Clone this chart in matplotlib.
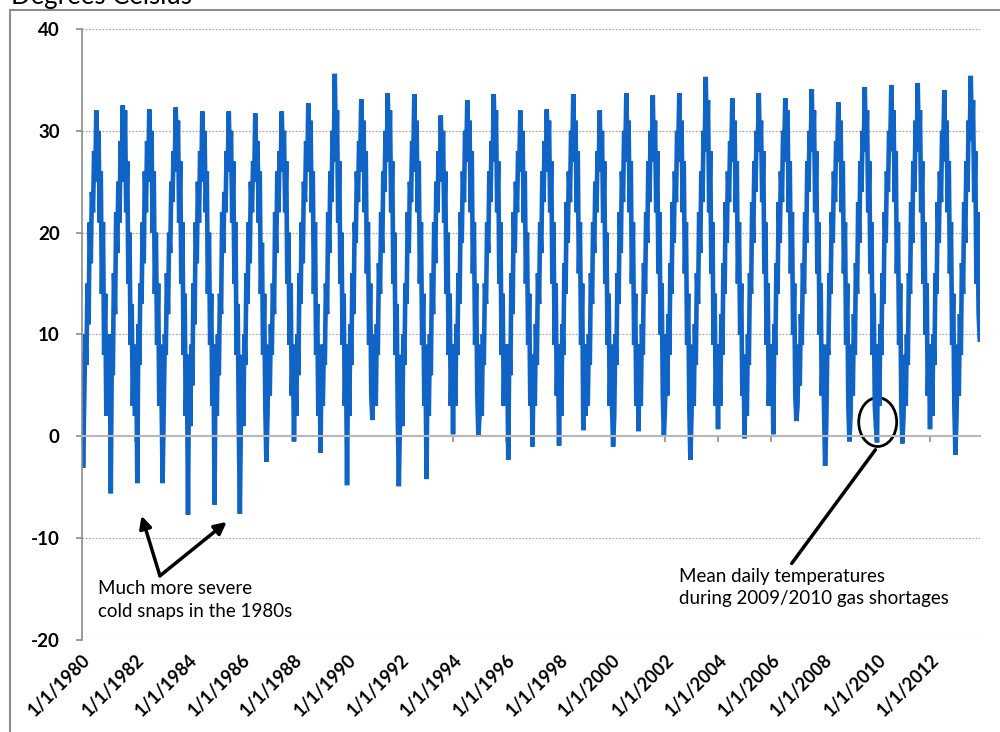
import numpy as np
import pandas as pd
import matplotlib
matplotlib.use("Agg")
import matplotlib.pyplot as plt
import matplotlib.dates as mdates
from matplotlib.patches import Ellipse, Rectangle

# mean daily temperature, two readings per month
# (1st and 16th), Jan..Dec, degrees Celsius
t1980 = [8, -3.1, 4, 10, 7, 15, 11, 21, 17, 24, 22, 28, 25, 32.0, 27, 30, 21, 26, 14, 21, 8, 14, 2, 9]
t1981 = [3, 10, -5.6, 9, 6, 16, 12, 22, 18, 25, 21, 29, 26, 32.5, 25, 32, 22, 27, 15, 20, 9, 13, 3, 8]
t1982 = [2, 9, -4.6, 11, 7, 15, 13, 21, 17, 26, 22, 29, 25, 32.1, 26, 30, 20, 26, 14, 20, 9, 15, 3, 9]
t1983 = [4, -4.6, 3, 10, 8, 16, 12, 20, 18, 25, 23, 28, 26, 32.3, 27, 31, 21, 27, 15, 21, 8, 14, 2, 8]
t1984 = [-7.7, 8, 1, 9, 5, 15, 11, 21, 17, 25, 21, 28, 25, 31.9, 26, 30, 22, 26, 14, 20, 9, 14, 3, 9]
t1985 = [-6.7, 9, 2, 10, 6, 14, 12, 22, 18, 24, 22, 28, 26, 31.9, 27, 30, 21, 27, 15, 21, 8, 13, 1, -7.6]
t1986 = [3, 8, 1, 10, 7, 16, 13, 21, 17, 25, 22, 27, 25, 31.7, 26, 29, 21, 26, 14, 19, 8, 14, 3, -2.5]
t1987 = [2, 9, 4, 11, 8, 15, 12, 22, 18, 26, 22, 28, 26, 31.9, 27, 30, 22, 27, 15, 20, 9, 15, 4, 9]
t1988 = [-0.5, 8, 2, 10, 6, 16, 13, 21, 17, 25, 23, 29, 26, 32.7, 28, 31, 22, 26, 14, 21, 8, 13, 2, 8]
t1989 = [-1.6, 9, 3, 9, 7, 15, 12, 22, 18, 26, 23, 30, 27, 35.6, 28, 32, 21, 27, 15, 20, 9, 14, 3, 9]
t1990 = [-4.8, 8, 2, 11, 7, 16, 12, 21, 19, 26, 23, 29, 27, 33.1, 26, 31, 22, 28, 16, 21, 9, 15, 4, 1.6]
t1991 = [5, 10, 3, 11, 8, 17, 14, 22, 18, 26, 24, 30, 27, 33.7, 27, 32, 22, 27, 15, 20, 8, 13, 2, -4.9]
t1992 = [2, 8, 1, 10, 7, 15, 13, 22, 18, 25, 23, 29, 27, 33.6, 26, 31, 22, 27, 15, 21, 9, 14, 3, 8]
t1993 = [-4.2, 9, 2, 10, 6, 16, 12, 21, 17, 25, 22, 28, 25, 31.5, 26, 30, 21, 26, 14, 20, 8, 14, 3, 9]
t1994 = [0.2, 9, 3, 11, 8, 16, 13, 22, 19, 26, 23, 30, 27, 33.0, 27, 31, 22, 28, 16, 21, 9, 15, 4, 0.0]
t1995 = [2, 9, 2, 10, 7, 15, 13, 21, 18, 26, 23, 29, 27, 33.6, 28, 32, 22, 27, 15, 21, 8, 14, 3, 9]
t1996 = [3, 9, -2.3, 9, 6, 16, 12, 22, 18, 25, 22, 28, 26, 32.0, 26, 30, 21, 26, 15, 20, 9, 14, 3, 8]
t1997 = [-1.0, 8, 3, 11, 7, 16, 13, 21, 18, 26, 23, 29, 26, 32.1, 27, 31, 22, 27, 15, 21, 9, 15, 4, 9]
t1998 = [-0.9, 9, 2, 11, 8, 17, 14, 23, 19, 26, 23, 30, 27, 33.6, 28, 31, 22, 28, 16, 21, 9, 15, 0.6, 9]
t1999 = [2, 9, 3, 10, 7, 16, 13, 21, 18, 25, 22, 28, 26, 32.0, 26, 30, 21, 27, 15, 20, 9, 14, 3, 9]
t2000 = [3, -1.0, 2, 10, 7, 16, 13, 22, 18, 26, 23, 30, 27, 33.7, 28, 31, 22, 27, 15, 21, 9, 14, 3, 9]
t2001 = [0.5, 9, 3, 11, 8, 17, 14, 22, 19, 27, 23, 30, 27, 33.5, 27, 31, 22, 28, 16, 22, 10, 15, 4, 0.0]
t2002 = [3, 10, 4, 12, 8, 17, 14, 23, 19, 26, 23, 30, 28, 33.7, 27, 31, 22, 27, 16, 21, 9, 14, 3, -2.3]
t2003 = [2, 9, 3, 11, 7, 16, 13, 22, 18, 26, 23, 30, 28, 35.3, 28, 33, 22, 28, 16, 21, 9, 14, 3, 9]
t2004 = [0.7, 9, 3, 12, 8, 17, 14, 23, 19, 26, 23, 29, 27, 33.2, 27, 31, 22, 27, 15, 21, 10, 15, 4, 8]
t2005 = [-0.2, 8, 2, 10, 7, 16, 14, 23, 19, 27, 24, 30, 28, 33.7, 28, 31, 23, 28, 16, 21, 9, 15, 3, 9]
t2006 = [3, 9, 0.2, 11, 8, 17, 14, 23, 19, 26, 23, 30, 28, 33.2, 27, 32, 22, 27, 16, 22, 10, 15, 4, 1.5]
t2007 = [3, 9, 5, 12, 9, 17, 14, 22, 19, 27, 24, 30, 28, 34.1, 28, 32, 22, 28, 16, 21, 10, 15, 4, 9]
t2008 = [3, -2.9, 1, 9, 8, 16, 14, 22, 19, 26, 23, 29, 27, 32.8, 27, 31, 22, 27, 16, 21, 9, 15, 3, -0.5]
t2009 = [2, 9, 4, 12, 8, 17, 14, 23, 19, 27, 24, 30, 28, 34.3, 28, 32, 22, 27, 16, 21, 8, 14, 3, 1.0]
t2010 = [-0.6, 9, 3, 11, 8, 16, 13, 22, 19, 26, 24, 30, 28, 34.5, 29, 32, 23, 28, 16, 21, 9, 15, 3, -0.7]
t2011 = [2, 8, 3, 10, 7, 16, 14, 23, 19, 27, 24, 31, 28, 34.7, 28, 32, 22, 27, 15, 21, 10, 15, 4, 9]
t2012 = [0.7, 9, 2, 10, 7, 16, 14, 23, 19, 26, 23, 30, 28, 34.0, 27, 31, 22, 27, 16, 21, 9, 14, 3, -1.8]
t2013 = [2, 9, 4, 12, 8, 17, 14, 23, 19, 27, 24, 31, 29, 35.4, 29, 33, 23, 28, 15, 22, 12, 9.5]

years = list(range(1980, 2014))
yearly = [t1980, t1981, t1982, t1983, t1984, t1985, t1986, t1987, t1988, t1989,
          t1990, t1991, t1992, t1993, t1994, t1995, t1996, t1997, t1998, t1999,
          t2000, t2001, t2002, t2003, t2004, t2005, t2006, t2007, t2008, t2009,
          t2010, t2011, t2012, t2013]
tick_years = list(range(1980, 2013, 2))

dates = []
temps = []
for yr, vals in zip(years, yearly):
    for i, v in enumerate(vals):
        dates.append(pd.Timestamp(yr, i // 2 + 1, 1 if i % 2 == 0 else 16))
        temps.append(v)

grey = '#8c8c8c'
plt.rcParams['font.family'] = ['Lato', 'DejaVu Sans']
plt.rcParams['axes.unicode_minus'] = False

fig = plt.figure(figsize=(10, 7.32), dpi=100)
ax = fig.add_axes([0.082, 0.1257, 0.898, 0.8347])

ax.plot(dates, temps, color='#0f64c6', lw=3.3, solid_joinstyle='miter')

ax.set_ylim(-20, 40)
ax.set_xlim(pd.Timestamp(1980, 1, 1), pd.Timestamp(2013, 11, 20))
ax.set_yticks(range(-20, 41, 10))
ax.yaxis.grid(True, linestyle=(0, (1.5, 1.5)), color='#a0a0a0', lw=0.8)
ax.set_axisbelow(True)
for lab in ax.get_yticklabels():
    lab.set_fontweight('bold')
ax.tick_params(axis='y', direction='out', length=4, color=grey, width=1.2,
               labelsize=13.5, pad=12, labelcolor='black')

ax.spines['top'].set_visible(False)
ax.spines['right'].set_visible(False)
ax.spines['left'].set_color(grey)
ax.spines['left'].set_linewidth(1.2)
ax.spines['bottom'].set_position(('data', 0))
ax.spines['bottom'].set_color('#b8b8b8')
ax.spines['bottom'].set_linewidth(1.5)

tick_pos = [mdates.date2num(pd.Timestamp(y, 1, 1)) for y in tick_years]
tick_lab = ['1/1/%d' % y for y in tick_years]
ax.set_xticks(tick_pos)
ax.tick_params(axis='x', direction='out', length=4, color=grey, width=1.2,
               labelbottom=False)

sec = ax.secondary_xaxis('bottom')
sec.set_xticks(tick_pos)
sec.set_xticklabels(tick_lab, rotation=45, ha='right', rotation_mode='anchor',
                    fontweight='bold', fontsize=13)
sec.tick_params(length=0, pad=8)
sec.spines['bottom'].set_visible(False)

# annotations
ax.add_patch(Ellipse((mdates.date2num(pd.Timestamp(2010, 1, 10)), 1.4),
                     width=523, height=4.8, fill=False, ec='black', lw=2))
ax.annotate('', xy=(pd.Timestamp(2010, 1, 1), -1.1),
            xytext=(pd.Timestamp(2006, 9, 20), -12.7),
            arrowprops=dict(arrowstyle='-', lw=2.5, color='black'))
ax.text(pd.Timestamp(2002, 7, 12), -12.9,
        'Mean daily temperatures\nduring 2009/2010 gas shortages',
        fontsize=13.5, va='top', ha='left', linespacing=1.4)

ax.annotate('', xy=(pd.Timestamp(1982, 4, 1), -7.8),
            xytext=(pd.Timestamp(1982, 12, 10), -13.7),
            arrowprops=dict(arrowstyle='-|>', lw=2.5, color='black', mutation_scale=18,
                            shrinkA=0, shrinkB=0))
ax.annotate('', xy=(pd.Timestamp(1985, 6, 18), -8.4),
            xytext=(pd.Timestamp(1982, 12, 10), -13.7),
            arrowprops=dict(arrowstyle='-|>', lw=2.5, color='black', mutation_scale=18,
                            shrinkA=0, shrinkB=0))
ax.text(pd.Timestamp(1980, 8, 8), -14.1,
        'Much more severe\ncold snaps in the 1980s',
        fontsize=13.5, va='top', ha='left', linespacing=1.4)

# outer frame and cut-off title
fig.patches.append(Rectangle((0.0095, -0.1), 1.2, 1.0863, transform=fig.transFigure,
                             fill=False, ec=grey, lw=1.5))
fig.text(0.011, 1 - 4 / 732, 'Degrees Celsius', fontsize=18.5, va='baseline', ha='left')

fig.savefig('out.png', dpi=100)
